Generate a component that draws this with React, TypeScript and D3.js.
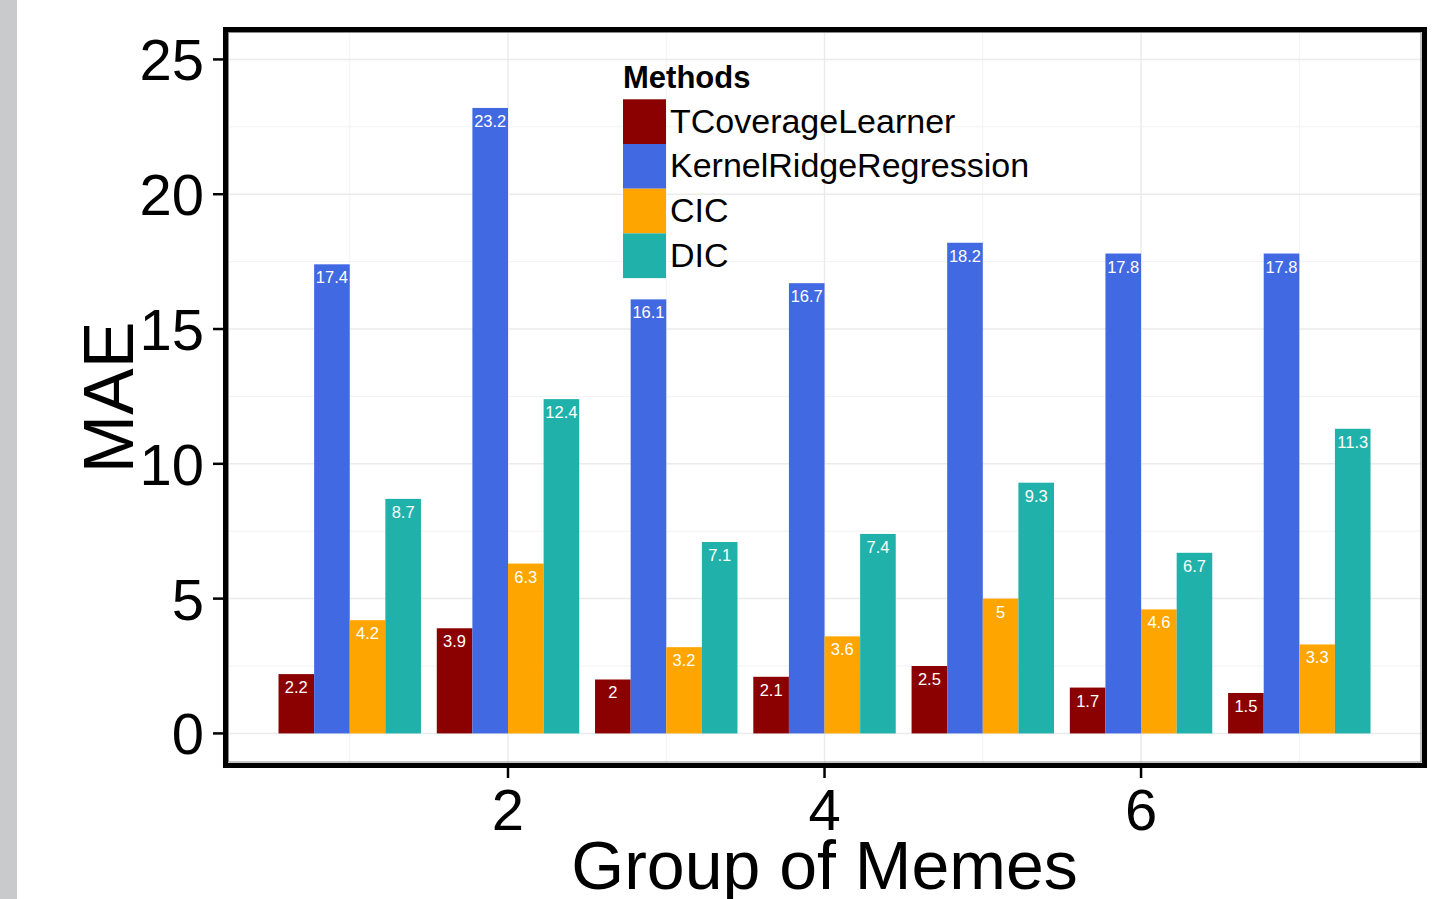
import React from "react";
import * as d3 from "d3";

const groups = [1, 2, 3, 4, 5, 6, 7];
const methods = ["TCoverageLearner", "KernelRidgeRegression", "CIC", "DIC"];
const colors = ["#8B0000", "#4169E1", "#FFA500", "#20B2AA"];
const tcl = [2.2, 3.9, 2, 2.1, 2.5, 1.7, 1.5];
const krr = [17.4, 23.2, 16.1, 16.7, 18.2, 17.8, 17.8];
const cic = [4.2, 6.3, 3.2, 3.6, 5, 4.6, 3.3];
const dic = [8.7, 12.4, 7.1, 7.4, 9.3, 6.7, 11.3];
const series = [tcl, krr, cic, dic];
const yTicks = [0, 5, 10, 15, 20, 25];
const yMinor = [2.5, 7.5, 12.5, 17.5, 22.5];
const xTicks = [2, 4, 6];
const xMinor = [1, 3, 5, 7];

const FONT = "'Liberation Sans', Arial, Helvetica, sans-serif";

export default function App() {
  const W = 1448, H = 899;
  const pl = 225.5, pr = 1424.5, pt = 29.5, pb = 765.5;
  const x = d3.scaleLinear().domain([0.215, 7.791]).range([pl, pr]);
  const y = d3.scaleLinear().domain([-1.19, 26.11]).range([pb, pt]);
  const dodge = 0.9;
  const bw = dodge / methods.length;

  return (
    <div style={{ position: "absolute", left: 0, top: 0 }}>
      <svg width={W} height={H} style={{ display: "block", fontFamily: FONT }}>
        <rect x={0} y={0} width={W} height={H} fill="#ffffff" />
        <rect x={0} y={0} width={17} height={H} fill="#c9cacc" />
        {/* grid */}
        {yMinor.map((v) => (
          <line key={"ym" + v} x1={pl} x2={pr} y1={y(v)} y2={y(v)} stroke="#f2f2f2" strokeWidth={1} />
        ))}
        {xMinor.map((v) => (
          <line key={"xm" + v} x1={x(v)} x2={x(v)} y1={pt} y2={pb} stroke="#f2f2f2" strokeWidth={1} />
        ))}
        {yTicks.map((v) => (
          <line key={"yg" + v} x1={pl} x2={pr} y1={y(v)} y2={y(v)} stroke="#ebebeb" strokeWidth={1.5} />
        ))}
        {xTicks.map((v) => (
          <line key={"xg" + v} x1={x(v)} x2={x(v)} y1={pt} y2={pb} stroke="#ebebeb" strokeWidth={1.5} />
        ))}
        {/* bars */}
        {series.map((vals, si) =>
          vals.map((v, gi) => {
            const g = groups[gi];
            const x0 = x(g - dodge / 2 + si * bw);
            const x1 = x(g - dodge / 2 + (si + 1) * bw);
            return (
              <rect
                key={si + "-" + gi}
                x={x0}
                y={y(v)}
                width={x1 - x0}
                height={y(0) - y(v)}
                fill={colors[si]}
              />
            );
          })
        )}
        {/* labels */}
        {series.map((vals, si) =>
          vals.map((v, gi) => {
            const g = groups[gi];
            const cx = x(g - dodge / 2 + (si + 0.5) * bw);
            return (
              <text
                key={"t" + si + "-" + gi}
                x={cx}
                y={y(v) + 19}
                textAnchor="middle"
                fontSize={16.5}
                fill="#ffffff"
              >
                {String(v)}
              </text>
            );
          })
        )}
        {/* panel border */}
        <rect x={228.5} y={32.5} width={1421 - 228.5} height={762 - 32.5} fill="none" stroke="#8a8a8a" strokeWidth={1} />
        <rect x={pl} y={pt} width={pr - pl} height={pb - pt} fill="none" stroke="#000" strokeWidth={5} />
        {/* y axis */}
        {yTicks.map((v) => (
          <g key={"yt" + v}>
            <line x1={213} x2={223} y1={y(v)} y2={y(v)} stroke="#000" strokeWidth={2.5} />
            <text x={204} y={y(v) + 21} textAnchor="end" fontSize={58} fill="#000">
              {v}
            </text>
          </g>
        ))}
        {/* x axis */}
        {xTicks.map((v) => (
          <g key={"xt" + v}>
            <line x1={x(v)} x2={x(v)} y1={768} y2={778} stroke="#000" strokeWidth={2.5} />
            <text x={x(v)} y={830} textAnchor="middle" fontSize={58} fill="#000">
              {v}
            </text>
          </g>
        ))}
        <text x={x(4)} y={889} textAnchor="middle" fontSize={68} fill="#000">
          Group of Memes
        </text>
        <text
          transform={`translate(133, ${(323 + 472) / 2}) rotate(-90)`}
          textAnchor="middle"
          fontSize={70}
          fill="#000"
        >
          MAE
        </text>
        {/* legend */}
        <text x={623} y={88} fontSize={31} fontWeight="bold" fill="#000">
          Methods
        </text>
        {methods.map((m, i) => {
          const ky = 99.3 + i * 44.7;
          return (
            <g key={"lg" + m}>
              <rect x={623} y={ky} width={43} height={44.7} fill={colors[i]} />
              <text x={670} y={ky + 22.35 + 11} fontSize={34} fill="#000">
                {m}
              </text>
            </g>
          );
        })}
      </svg>
    </div>
  );
}
